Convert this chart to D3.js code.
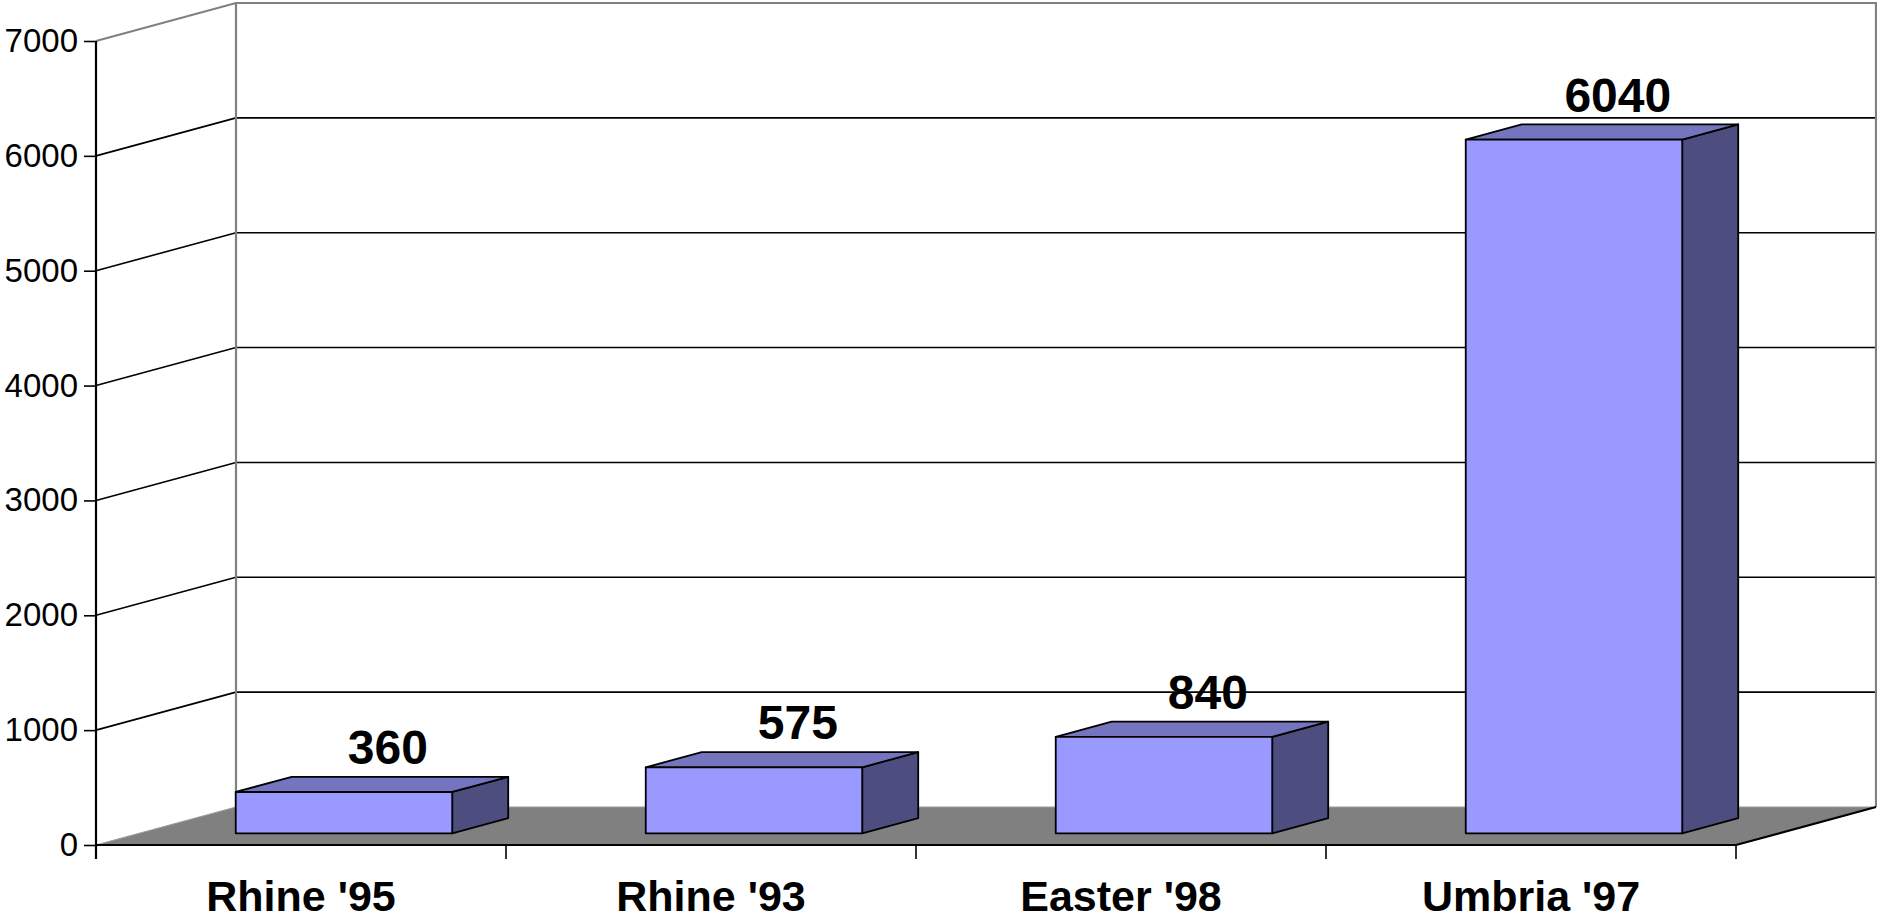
<!DOCTYPE html>
<html>
<head>
<meta charset="utf-8">
<script src="https://cdn.jsdelivr.net/npm/d3@7/dist/d3.min.js"></script>
<style>
  html, body { margin: 0; padding: 0; background: #ffffff; }
  svg { display: block; }
  text { font-family: "Liberation Sans", Arial, sans-serif; }
</style>
</head>
<body>
<svg id="chart" width="1877" height="923"></svg>
<script>
// Chart data
const categories = ["Rhine '95", "Rhine '93", "Easter '98", "Umbria '97"];
const values = [360, 575, 840, 6040];
const yTicks = [0, 1000, 2000, 3000, 4000, 5000, 6000, 7000];

const svg = d3.select("#chart");

// Front plane scales
const x = d3.scaleBand().domain(categories).range([96, 1736]).paddingInner(0).paddingOuter(0);
const y = d3.scaleLinear().domain([0, 7000]).range([845, 41]);

// Oblique depth of the plot box
const DX = 140, DY = 38;
const zFront = 0.307, zBack = 0.707;   // depth span occupied by the bars
const zLabel = 0.62;                   // depth at which value labels sit
const barFrac = 0.528;                 // bar width as a share of the band

const proj = (px, v, z) => [px + z * DX, y(v) - z * DY];
const poly = pts => "M" + pts.map(p => p.join(",")).join("L") + "Z";

const yMax = d3.max(yTicks);
const backLeft = x.range()[0] + DX;
const backRight = x.range()[1] + DX;

// Back wall gridlines
const back = svg.append("g");
back.selectAll("line.grid")
  .data(yTicks.filter(t => t > 0 && t < yMax))
  .join("line")
  .attr("x1", backLeft).attr("x2", backRight)
  .attr("y1", d => y(d) - DY).attr("y2", d => y(d) - DY)
  .attr("stroke", "#000").attr("stroke-width", 1.6);

// Side wall gridlines
back.selectAll("line.side")
  .data(yTicks.filter(t => t > 0 && t < yMax))
  .join("line")
  .attr("x1", x.range()[0]).attr("y1", d => y(d))
  .attr("x2", backLeft).attr("y2", d => y(d) - DY)
  .attr("stroke", "#000").attr("stroke-width", 1.6);

// Wall outline (grey)
const grey = "#808080";
back.append("path")
  .attr("d", `M${x.range()[0]},${y(yMax)}L${backLeft},${y(yMax) - DY}L${backRight},${y(yMax) - DY}L${backRight},${y(0) - DY}`)
  .attr("fill", "none").attr("stroke", grey).attr("stroke-width", 2.2);
back.append("line")
  .attr("x1", backLeft).attr("x2", backLeft)
  .attr("y1", y(yMax) - DY).attr("y2", y(0) - DY)
  .attr("stroke", grey).attr("stroke-width", 2.2);

// Floor
const x0 = x.range()[0], x1 = x.range()[1];
svg.append("path")
  .attr("d", poly([[x0, y(0)], [x1, y(0)], [x1 + DX, y(0) - DY], [x0 + DX, y(0) - DY]]))
  .attr("fill", "#808080")
  .attr("stroke", "#9a9a9a").attr("stroke-width", 1.2);
svg.append("path")
  .attr("d", `M${x0},${y(0)}L${x1},${y(0)}L${x1 + DX},${y(0) - DY}`)
  .attr("fill", "none").attr("stroke", "#000").attr("stroke-width", 2.2);

// Value axis
const yAxisG = svg.append("g")
  .attr("transform", `translate(${x0},0)`)
  .call(d3.axisLeft(y).tickValues(yTicks).tickSize(12).tickPadding(6).tickFormat(d3.format("d")));
yAxisG.select(".domain").remove();
yAxisG.selectAll(".tick line").attr("stroke", "#000").attr("stroke-width", 1.6);
yAxisG.selectAll(".tick text")
  .attr("font-size", 33).attr("fill", "#000")
  .style("font-family", "'Liberation Sans', Arial, sans-serif");
svg.append("line")
  .attr("x1", x0).attr("x2", x0)
  .attr("y1", y(yMax)).attr("y2", y(0) + 14)
  .attr("stroke", "#000").attr("stroke-width", 2.2);

// Category ticks at band boundaries
const bounds = categories.map(c => x(c)).concat([x1]);
svg.selectAll("line.xtick")
  .data(bounds.slice(1))
  .join("line")
  .attr("x1", d => d).attr("x2", d => d)
  .attr("y1", y(0)).attr("y2", y(0) + 14)
  .attr("stroke", "#000").attr("stroke-width", 1.6);

// Category labels
svg.selectAll("text.cat")
  .data(categories)
  .join("text")
  .attr("x", d => x(d) + x.bandwidth() / 2)
  .attr("y", 911)
  .attr("text-anchor", "middle")
  .attr("font-size", 43).attr("font-weight", "bold").attr("fill", "#000")
  .text(d => d);

// 3D bars
const bars = categories.map((c, i) => {
  const w = x.bandwidth() * barFrac;
  const l = x(c) + (x.bandwidth() - w) / 2;
  return { c, v: values[i], l, r: l + w };
});

const barG = svg.append("g").attr("stroke", "#000").attr("stroke-width", 1.8).attr("stroke-linejoin", "round");
bars.forEach(b => {
  // side face
  barG.append("path")
    .attr("d", poly([proj(b.r, 0, zFront), proj(b.r, 0, zBack), proj(b.r, b.v, zBack), proj(b.r, b.v, zFront)]))
    .attr("fill", "#4d4d80");
  // top face
  barG.append("path")
    .attr("d", poly([proj(b.l, b.v, zFront), proj(b.r, b.v, zFront), proj(b.r, b.v, zBack), proj(b.l, b.v, zBack)]))
    .attr("fill", "#7575bf");
  // front face
  barG.append("path")
    .attr("d", poly([proj(b.l, 0, zFront), proj(b.r, 0, zFront), proj(b.r, b.v, zFront), proj(b.l, b.v, zFront)]))
    .attr("fill", "#9999ff");
});

// Value labels above the bars
svg.selectAll("text.val")
  .data(bars)
  .join("text")
  .attr("x", d => (d.l + d.r) / 2 + zLabel * DX)
  .attr("y", d => proj(d.l, d.v, zFront)[1] - 28)
  .attr("text-anchor", "middle")
  .attr("font-size", 48).attr("font-weight", "bold").attr("fill", "#000")
  .text(d => d.v);
</script>
</body>
</html>
